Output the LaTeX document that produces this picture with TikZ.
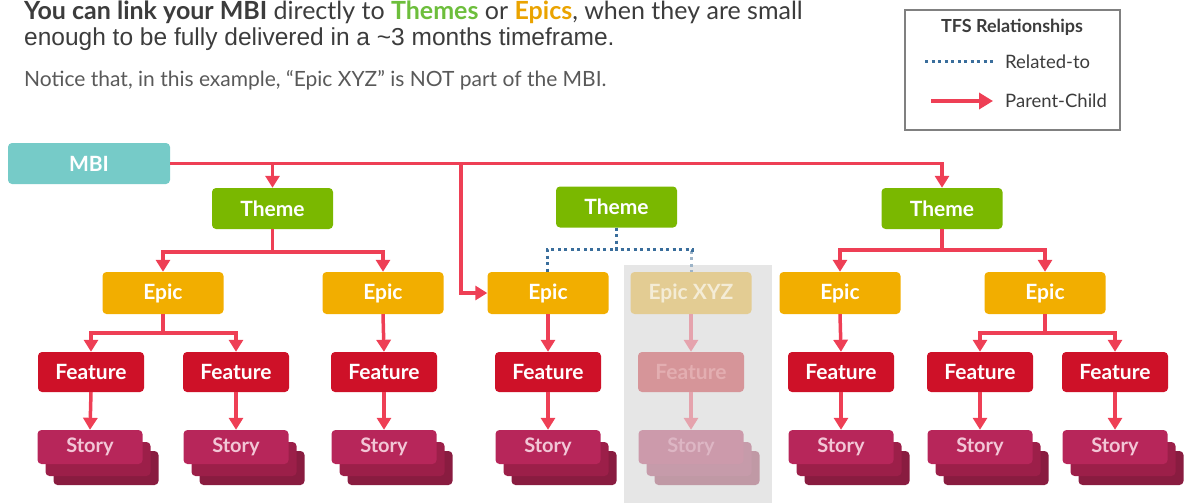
\documentclass[tikz,border=0pt]{standalone}
\usepackage{fontspec}
\usepackage{tikz}
\usetikzlibrary{calc}
\usetikzlibrary{arrows.meta}
\usetikzlibrary{shadows}
\newfontfamily\lato{Lato}
\newfontfamily\arial{Liberation Sans}
\definecolor{linkred}{HTML}{EE3F55}
\definecolor{mbicol}{HTML}{76CBC8}
\definecolor{themecol}{HTML}{7AB800}
\definecolor{themetxt}{HTML}{6DBE3C}
\definecolor{epiccol}{HTML}{F2AE00}
\definecolor{epictxt}{HTML}{EAA300}
\definecolor{featcol}{HTML}{CE1128}
\definecolor{storyA}{HTML}{B7265A}
\definecolor{storyB}{HTML}{9C1F49}
\definecolor{storyC}{HTML}{891C40}
\definecolor{storytxt}{HTML}{F2C6D6}
\definecolor{relblue}{HTML}{3A6E9C}
\definecolor{txtgray}{HTML}{3C3C3C}
\definecolor{fadebg}{HTML}{E6E6E6}
% faded column
\definecolor{fepic}{HTML}{E3CC93}
\definecolor{fepictxt}{HTML}{F4ECD6}
\definecolor{ffeat}{HTML}{D69599}
\definecolor{ffeattxt}{HTML}{E3AEB1}
\definecolor{fstoryA}{HTML}{CC9AAB}
\definecolor{fstoryB}{HTML}{C69BAA}
\definecolor{fstoryC}{HTML}{C099A5}
\definecolor{fstorytxt}{HTML}{DDB6C4}
\definecolor{flink}{HTML}{E5A3AD}
\definecolor{frel}{HTML}{9DB4C8}
\tikzset{
	box/.style={rounded corners=4pt, inner sep=0pt, text=white, font=\lato\bfseries\fontsize{21}{24}\selectfont},
	mbibox/.style={box, fill=mbicol, minimum width=162pt, minimum height=41pt},
	themebox/.style={box, fill=themecol, minimum width=121pt, minimum height=41pt},
	epicbox/.style={box, fill=epiccol, minimum width=121pt, minimum height=42pt},
	featbox/.style={box, fill=featcol, minimum width=106pt, minimum height=40pt},
	storybox/.style={box, fill=storyA, text=storytxt, minimum width=105pt, minimum height=34pt,
		font=\lato\bfseries\fontsize{20}{23}\selectfont,
		general shadow={fill=storyC, shadow xshift=16pt, shadow yshift=-21pt},
		general shadow={fill=storyB, shadow xshift=8pt, shadow yshift=-12pt}},
	fstorybox/.style={box, fill=fstoryA, text=fstorytxt, minimum width=105pt, minimum height=34pt,
		font=\lato\bfseries\fontsize{20}{23}\selectfont,
		general shadow={fill=fstoryC, shadow xshift=16pt, shadow yshift=-21pt},
		general shadow={fill=fstoryB, shadow xshift=8pt, shadow yshift=-12pt}},
	link/.style={draw=linkred, line width=3.5pt, -{Triangle[width=14pt,length=12pt]}},
	related/.style={draw=relblue, line width=3pt, dash pattern=on 3pt off 3.5pt},
}
\begin{document}
\begin{tikzpicture}[x=1pt,y=-1pt]
	\useasboundingbox (0,0) rectangle (1185,503);
	\fill[fadebg] (624,265) rectangle (772,503);
	% heading
	\node[anchor=base west, inner sep=0pt, text=txtgray, font=\lato\fontsize{25}{28}\selectfont] (head1) at (24,20)
		{\textbf{You can link your MBI} directly to \textbf{\textcolor{themetxt}{Themes}} or \textbf{\textcolor{epictxt}{Epics}}, when they are small};
	\node[anchor=base west, inner sep=0pt, text=txtgray, font=\arial\fontsize{24.5}{28}\selectfont] (head2) at (24,46)
		{enough to be fully delivered in a \textasciitilde3 months timeframe.};
	\node[anchor=base west, inner sep=0pt, text=txtgray!85, font=\lato\fontsize{21}{24}\selectfont] (note) at (24,86)
		{Notice that, in this example, “Epic XYZ” is NOT part of the MBI.};
	% legend
	\node[draw=gray, line width=1.5pt, minimum width=215pt, minimum height=120pt] (legend) at (1012.5,70) {};
	\node[text=txtgray, font=\lato\bfseries\fontsize{18}{21}\selectfont] (legtitle) at (1012,27) {TFS Relationships};
	\node[anchor=west, inner sep=0pt, text=txtgray, font=\lato\fontsize{18.5}{21}\selectfont] (legrel) at (1005,62) {Related-to};
	\node[anchor=west, inner sep=0pt, text=txtgray, font=\lato\fontsize{18.5}{21}\selectfont] (legpc) at (1005,101) {Parent-Child};
	\coordinate (relstart) at (925,62);
	\coordinate (pcstart) at (931,101);
	\draw[related] (relstart) -- ([xshift=-12pt]legrel.west);
	\draw[link, -{Triangle[width=16pt,length=14pt]}] (pcstart) -- ([xshift=-12pt]legpc.west);
	% hierarchy
	\node[mbibox] (mbi) at (89,163.5) {MBI};
	\node[themebox] (th1) at (272.5,208.5) {Theme};
	\node[themebox] (th2) at (616.5,207) {Theme};
	\node[themebox] (th3) at (942,208.5) {Theme};
	\node[epicbox] (ep1) at (163,293) {Epic};
	\node[epicbox] (ep2) at (383,293) {Epic};
	\node[epicbox] (ep3) at (548,293) {Epic};
	\node[epicbox, fill=fepic, text=fepictxt] (ep4) at (691,293) {Epic XYZ};
	\node[epicbox] (ep5) at (840,293) {Epic};
	\node[epicbox] (ep6) at (1045,293) {Epic};
	\node[featbox] (f1) at (91,372) {Feature};
	\node[featbox] (f2) at (236,372) {Feature};
	\node[featbox] (f3) at (384,372) {Feature};
	\node[featbox] (f4) at (548,372) {Feature};
	\node[featbox, fill=ffeat, text=ffeattxt] (f5) at (691,372) {Feature};
	\node[featbox] (f6) at (841,372) {Feature};
	\node[featbox] (f7) at (980,372) {Feature};
	\node[featbox] (f8) at (1115,372) {Feature};
	\foreach \f/\x in {1/90,2/236,3/384,4/548,6/841,7/980,8/1115}
		\node[storybox] (s\f) at (\x,447) {Story};
	\node[fstorybox] (s5) at (691,447) {Story};
	\coordinate (tap) at (461,163);
	\draw[link] (mbi.east) -| (th3.north);
	\draw[link] (mbi.east -| th1.north) -- (th1.north);
	\draw[link] (tap) |- (ep3.west);
	\draw[link] (th1.south) -- ++(0,23) -| (ep1.north);
	\draw[link] (th1.south) -- ++(0,23) -| (ep2.north);
	\draw[link] (th3.south) -- ++(0,21) -| (ep5.north);
	\draw[link] (th3.south) -- ++(0,21) -| (ep6.north);
	\draw[related, draw=frel] (th2.south) -- ++(0,22) -| (ep4.north);
	\draw[related] (th2.south) -- ++(0,22) -| ([xshift=-1pt]ep3.north);
	\draw[related] (th2.south) -- ++(0,22) -- ++(76,0) -- ++(0,6);
	\draw[link] (ep1.south) -- ++(0,19) -| (f1.north);
	\draw[link] (ep1.south) -- ++(0,19) -| (f2.north);
	\draw[link] (ep2.south) -- (f3.north);
	\draw[link] (ep3.south) -- (f4.north);
	\draw[link, draw=flink] (ep4.south) -- (f5.north);
	\draw[link] (ep5.south) -- (f6.north);
	\draw[link] (ep6.south) -- ++(0,19) -| (f7.north);
	\draw[link] (ep6.south) -- ++(0,19) -| (f8.north);
	\foreach \f in {1,2,3,4,6,7,8}
		\draw[link] (f\f.south) -- (s\f.north);
	\draw[link, draw=flink] (f5.south) -- (s5.north);
\end{tikzpicture}
\end{document}
